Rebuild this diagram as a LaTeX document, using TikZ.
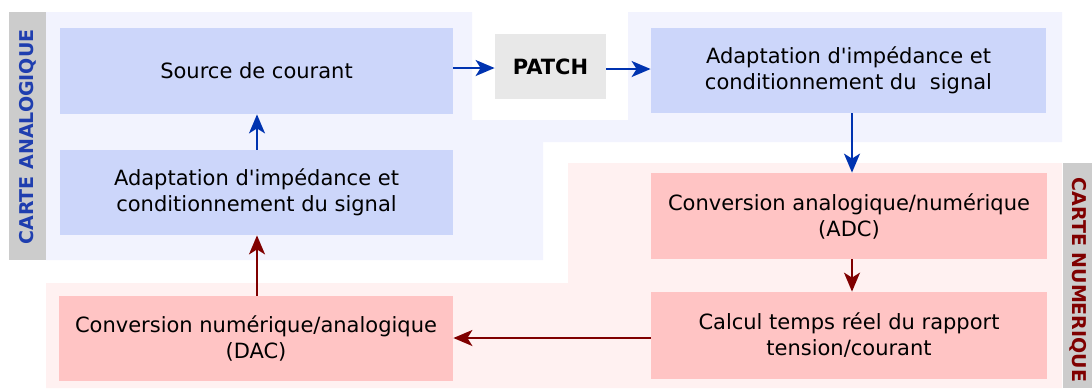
\documentclass[tikz,border=0pt]{standalone}
\usepackage{fontspec}
\setmainfont{DejaVu Sans}[Ligatures=TeXOff]
\usetikzlibrary{arrows.meta}
\definecolor{boxblue}{HTML}{CCD6FA}
\definecolor{bgblue}{HTML}{F2F3FE}
\definecolor{boxpink}{HTML}{FFC4C4}
\definecolor{bgpink}{HTML}{FFF1F1}
\definecolor{patchgray}{HTML}{E8E8E8}
\definecolor{bargray}{HTML}{CCCCCC}
\definecolor{arrblue}{HTML}{0033B0}
\definecolor{arrred}{HTML}{800000}
\definecolor{lblblue}{HTML}{1F3EAF}
\tikzset{
  blk/.style={inner sep=0pt, align=center, minimum width=196.5pt, minimum height=42.5pt,
    font=\fontsize{10.5}{13}\selectfont},
  bluebox/.style={blk, fill=boxblue},
  pinkbox/.style={blk, fill=boxpink},
  conn/.style={line width=1pt, -{Stealth[length=9.5pt, width=8pt, inset=2.5pt]}},
  blueconn/.style={conn, draw=arrblue, fill=arrblue},
  redconn/.style={conn, draw=arrred, fill=arrred},
  barlabel/.style={font=\fontsize{9.5}{11}\selectfont\bfseries, inner sep=0pt}
}
\begin{document}
\begin{tikzpicture}[x=0.5pt, y=-0.5pt]
\useasboundingbox (0,0) rectangle (1092,388);
% regions
\fill[bgblue] (46,12) -- (472,12) -- (472,120) -- (628,120) -- (628,12) -- (1062,12)
  -- (1062,142) -- (543,142) -- (543,260) -- (46,260) -- cycle;
\fill[bgpink] (46,283) -- (568,283) -- (568,163) -- (1062,163) -- (1062,388) -- (46,388) -- cycle;
\fill[bargray] (9,12) rectangle (46,260);
\fill[bargray] (1063,163) rectangle (1092,388);
\node[barlabel, text=lblblue, rotate=90] (lblA) at (28,137) {CARTE ANALOGIQUE};
\node[barlabel, text=arrred, rotate=-90] (lblN) at (1078,280) {CARTE NUMERIQUE};
% boxes
\node[bluebox, minimum height=43pt] (src) at (256.5,71) {Source de courant};
\node[bluebox] (adl) at (256.5,192.5) {Adaptation d'impédance et\\conditionnement du signal};
\node[inner sep=0pt, fill=patchgray, minimum width=55.5pt, minimum height=32.5pt,
  font=\fontsize{10.5}{13}\selectfont\bfseries] (patch) at (550.5,66.5) {PATCH};
\node[bluebox, minimum width=197.5pt] (adr) at (848.5,70.5) {Adaptation d'impédance et\\conditionnement du\ \ signal};
\node[pinkbox, minimum width=198pt, minimum height=43pt] (adc) at (849,216) {Conversion analogique/numérique\\(ADC)};
\node[pinkbox, minimum width=198pt, minimum height=43.5pt] (calc) at (849,335.5) {Calcul temps réel du rapport\\tension/courant};
\node[pinkbox, minimum width=197pt] (dac) at (256,338.5) {Conversion numérique/analogique\\(DAC)};
% guide coordinates for connector positions
\coordinate (hA) at (0,68);
\coordinate (hB) at (0,69);
\coordinate (vA) at (852,0);
\coordinate (vL) at (257,0);
\coordinate (hC) at (0,338);
% connectors
\draw[blueconn] (src.east |- hA) -- (patch.west |- hA);
\draw[blueconn] (patch.east |- hB) -- (adr.west |- hB);
\draw[blueconn] (adl.north -| vL) -- (src.south -| vL);
\draw[blueconn] (adr.south -| vA) -- (adc.north -| vA);
\draw[redconn] (adc.south -| vA) -- (calc.north -| vA);
\draw[redconn] (calc.west |- hC) -- (dac.east |- hC);
\draw[redconn] (dac.north -| vL) -- (adl.south -| vL);
\end{tikzpicture}
\end{document}
